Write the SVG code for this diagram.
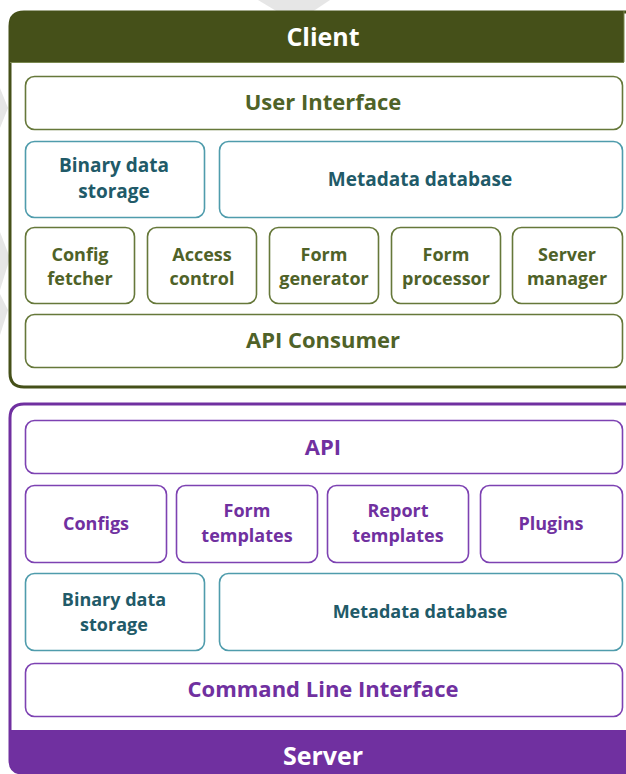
<svg xmlns="http://www.w3.org/2000/svg" width="626" height="774" viewBox="0 0 626 774">
<style>
text{font-family:"Open Sans","Noto Sans","Liberation Sans",sans-serif;font-weight:bold;text-anchor:middle}
.wm{fill:#e6e6e6}
.ob{fill:#fff;stroke:#66783a;stroke-width:1.6}
.tb{fill:#fff;stroke:#4f9cac;stroke-width:1.6}
.pb{fill:#fff;stroke:#7d42b2;stroke-width:1.6}
.ot{fill:#4f6228}
.tt{fill:#215a68}
.pt{fill:#7030a0}
.big{font-size:22px}
.med{font-size:19px}
.sm{font-size:18px}
.ttl{font-size:25px;fill:#fff}
</style>
<rect width="626" height="774" fill="#fff"/>
<g id="watermark">
<polygon class="wm" points="258,0 330,0 312,12 278,12"/>
<polygon class="wm" points="0,88 8,108 0,128"/>
<polygon class="wm" points="0,232 10,258 0,290"/>
<polygon class="wm" points="0,294 8,310 0,335"/>
</g>
<g id="client">
<path d="M626,387 L24,387 Q10,387 10,373 L10,26 Q10,12 24,12 L626,12" fill="#fff" stroke="#455019" stroke-width="3"/>
<path d="M10,62 L10,26 Q10,11 25,11 L624,11 L624,62 Z" fill="#455019"/>
<line x1="10" y1="62.5" x2="624" y2="62.5" stroke="#7a8850" stroke-width="1"/>
<line x1="624" y1="11" x2="624" y2="62" stroke="#7a8850" stroke-width="1"/>
<text class="ttl" x="323" y="46">Client</text>
</g>
<g id="user-interface">
<rect class="ob" x="25.5" y="76.5" width="597" height="53" rx="9"/>
<text class="ot big" x="323" y="110">User Interface</text>
</g>
<g id="client-binary">
<rect class="tb" x="25.5" y="141.5" width="179" height="76" rx="9"/>
<text class="tt med" x="114" y="172">Binary data</text>
<text class="tt med" x="114" y="198">storage</text>
</g>
<g id="client-metadata">
<rect class="tb" x="219.5" y="141.5" width="403" height="76" rx="9"/>
<text class="tt med" x="420" y="186">Metadata database</text>
</g>
<g id="config-fetcher">
<rect class="ob" x="25.5" y="227.5" width="109" height="76" rx="9"/>
<text class="ot sm" x="80" y="261">Config</text>
<text class="ot sm" x="80" y="285">fetcher</text>
</g>
<g id="access-control">
<rect class="ob" x="147.5" y="227.5" width="109" height="76" rx="9"/>
<text class="ot sm" x="202" y="261">Access</text>
<text class="ot sm" x="202" y="285">control</text>
</g>
<g id="form-generator">
<rect class="ob" x="269.5" y="227.5" width="109" height="76" rx="9"/>
<text class="ot sm" x="324" y="261">Form</text>
<text class="ot sm" x="324" y="285">generator</text>
</g>
<g id="form-processor">
<rect class="ob" x="391.5" y="227.5" width="109" height="76" rx="9"/>
<text class="ot sm" x="446" y="261">Form</text>
<text class="ot sm" x="446" y="285">processor</text>
</g>
<g id="server-manager">
<rect class="ob" x="512.5" y="227.5" width="110" height="76" rx="9"/>
<text class="ot sm" x="567" y="261">Server</text>
<text class="ot sm" x="567" y="285">manager</text>
</g>
<g id="api-consumer">
<rect class="ob" x="25.5" y="314.5" width="597" height="53" rx="9"/>
<text class="ot big" x="323" y="348">API Consumer</text>
</g>
<g id="server">
<path d="M626,404 L24,404 Q10,404 10,418 L10,760 Q10,773 23,773 L626,773" fill="#fff" stroke="#7030a0" stroke-width="3"/>
<path d="M10,730 L626,730 L626,774 L23,774 Q10,774 10,761 Z" fill="#7030a0"/>
<text class="ttl" x="323" y="765">Server</text>
</g>
<g id="api">
<rect class="pb" x="25.5" y="420.5" width="597" height="53" rx="9"/>
<text class="pt big" x="323" y="455">API</text>
</g>
<g id="configs">
<rect class="pb" x="25.5" y="485.5" width="141" height="77" rx="9"/>
<text class="pt sm" x="96" y="530">Configs</text>
</g>
<g id="form-templates">
<rect class="pb" x="176.5" y="485.5" width="141" height="77" rx="9"/>
<text class="pt sm" x="247" y="517">Form</text>
<text class="pt sm" x="247" y="542">templates</text>
</g>
<g id="report-templates">
<rect class="pb" x="327.5" y="485.5" width="141" height="77" rx="9"/>
<text class="pt sm" x="398" y="517">Report</text>
<text class="pt sm" x="398" y="542">templates</text>
</g>
<g id="plugins">
<rect class="pb" x="480.5" y="485.5" width="142" height="77" rx="9"/>
<text class="pt sm" x="551" y="530">Plugins</text>
</g>
<g id="server-binary">
<rect class="tb" x="25.5" y="573.5" width="179" height="77" rx="9"/>
<text class="tt sm" x="114" y="606">Binary data</text>
<text class="tt sm" x="114" y="631">storage</text>
</g>
<g id="server-metadata">
<rect class="tb" x="219.5" y="573.5" width="403" height="77" rx="9"/>
<text class="tt sm" x="420" y="618">Metadata database</text>
</g>
<g id="cli">
<rect class="pb" x="25.5" y="663.5" width="597" height="53" rx="9"/>
<text class="pt big" x="323" y="697">Command Line Interface</text>
</g>
<g id="connectors"></g>
</svg>
